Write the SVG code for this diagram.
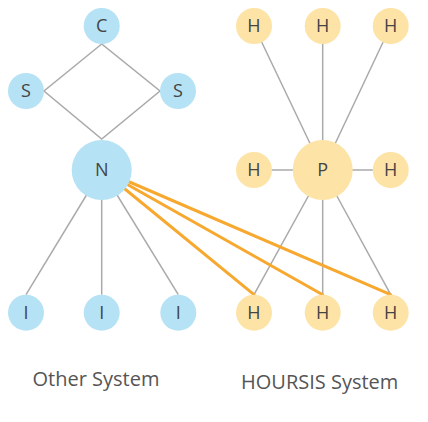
<svg xmlns="http://www.w3.org/2000/svg" width="428" height="422" viewBox="0 0 428 422">
<style>
.b{fill:#b5e2f5}
.y{fill:#fde3a6}
.t{font-family:"Open Sans","Noto Sans",sans-serif;font-size:18px;fill:#444;text-anchor:middle}
.g{stroke:#aaa;stroke-width:1.5;fill:none}
.o{stroke:#f7a82f;stroke-width:3;fill:none;stroke-linecap:round}
.lbl{font-family:"Open Sans","Noto Sans",sans-serif;font-size:20px;fill:#555;text-anchor:middle}
</style>
<rect width="428" height="422" fill="#fff"/>
<g id="connectors">
<polygon class="g" points="101.7,44 44,91 101.7,139 160,91"/>
<line class="g" x1="101.7" y1="170" x2="26" y2="294.7"/>
<line class="g" x1="101.7" y1="170" x2="101.7" y2="294.7"/>
<line class="g" x1="101.7" y1="170" x2="178.3" y2="294.7"/>
<line class="g" x1="254" y1="26" x2="322.7" y2="170"/>
<line class="g" x1="322.7" y1="26" x2="322.7" y2="170"/>
<line class="g" x1="390.7" y1="26" x2="322.7" y2="170"/>
<line class="g" x1="254" y1="170" x2="390.7" y2="170"/>
<line class="g" x1="322.7" y1="170" x2="254" y2="294.7"/>
<line class="g" x1="322.7" y1="170" x2="322.7" y2="294.7"/>
<line class="g" x1="322.7" y1="170" x2="390.7" y2="294.7"/>
<line class="o" x1="101.7" y1="170" x2="254" y2="294.7"/>
<line class="o" x1="101.7" y1="170" x2="322.7" y2="294.7"/>
<line class="o" x1="101.7" y1="170" x2="390.7" y2="294.7"/>
</g>
<g id="C"><circle class="b" cx="101.7" cy="26" r="18"/><text class="t" x="101.7" y="32.4">C</text></g>
<g id="S1"><circle class="b" cx="26" cy="91" r="18"/><text class="t" x="26" y="97.4">S</text></g>
<g id="S2"><circle class="b" cx="178" cy="91" r="18"/><text class="t" x="178" y="97.4">S</text></g>
<g id="N"><circle class="b" cx="101.7" cy="170" r="30"/><text class="t" x="101.7" y="176.4">N</text></g>
<g id="I1"><circle class="b" cx="26" cy="312.7" r="18"/><text class="t" x="26" y="319.1">I</text></g>
<g id="I2"><circle class="b" cx="101.7" cy="312.7" r="18"/><text class="t" x="101.7" y="319.1">I</text></g>
<g id="I3"><circle class="b" cx="178.3" cy="312.7" r="18"/><text class="t" x="178.3" y="319.1">I</text></g>
<g id="H1"><circle class="y" cx="254" cy="26" r="18"/><text class="t" x="254" y="32.4">H</text></g>
<g id="H2"><circle class="y" cx="322.7" cy="26" r="18"/><text class="t" x="322.7" y="32.4">H</text></g>
<g id="H3"><circle class="y" cx="390.7" cy="26" r="18"/><text class="t" x="390.7" y="32.4">H</text></g>
<g id="H4"><circle class="y" cx="254" cy="170" r="18"/><text class="t" x="254" y="176.4">H</text></g>
<g id="P"><circle class="y" cx="322.7" cy="170" r="30"/><text class="t" x="322.7" y="176.4">P</text></g>
<g id="H5"><circle class="y" cx="390.7" cy="170" r="18"/><text class="t" x="390.7" y="176.4">H</text></g>
<g id="H6"><circle class="y" cx="254" cy="312.7" r="18"/><text class="t" x="254" y="319.1">H</text></g>
<g id="H7"><circle class="y" cx="322.7" cy="312.7" r="18"/><text class="t" x="322.7" y="319.1">H</text></g>
<g id="H8"><circle class="y" cx="390.7" cy="312.7" r="18"/><text class="t" x="390.7" y="319.1">H</text></g>
<text class="lbl" x="96" y="385.7">Other System</text>
<text class="lbl" x="319.7" y="388.7">HOURSIS System</text>
</svg>
